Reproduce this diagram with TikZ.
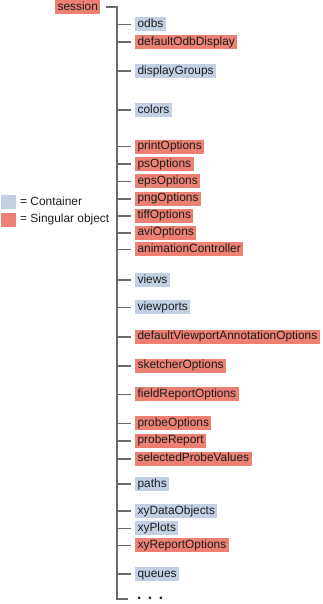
\documentclass[tikz,border=0pt]{standalone}
\usepackage{fontspec}
\setmainfont{Liberation Sans}
\definecolor{contblue}{HTML}{C3D0E4}
\definecolor{singred}{HTML}{EC8072}
\definecolor{linegray}{HTML}{6A6A6A}
\definecolor{txt}{HTML}{1E1E1E}
\begin{document}
\begin{tikzpicture}[x=1pt,y=-1pt,
  every node/.style={font=\fontsize{11.9}{13}\selectfont, text=txt},
  obj/.style={anchor=west, inner xsep=2.4pt, inner ysep=1.5pt, text height=8.6pt, text depth=2.4pt},
  cont/.style={obj, fill=contblue},
  sing/.style={obj, fill=singred},
  trunk/.style={draw=linegray, line width=2pt},
  branch/.style={draw=linegray, line width=1.6pt, shorten >=4pt},
  legbox/.style={minimum width=15pt, minimum height=14pt, inner sep=0pt, anchor=west}
]
\useasboundingbox (0,0) rectangle (323,604);

\node[sing, anchor=west] (session) at (55,7) {session};

\node[cont] (n1) at (135,24.5) {odbs};
\node[sing] (n2) at (135,42) {defaultOdbDisplay};
\node[cont] (n3) at (135,71) {displayGroups};
\node[cont] (n4) at (135,110) {colors};
\node[sing] (n5) at (135,146.7) {printOptions};
\node[sing] (n6) at (135,164) {psOptions};
\node[sing] (n7) at (135,181.3) {epsOptions};
\node[sing] (n8) at (135,198.7) {pngOptions};
\node[sing] (n9) at (135,215.7) {tiffOptions};
\node[sing] (n10) at (135,232.7) {aviOptions};
\node[sing] (n11) at (135,249.3) {animationController};
\node[cont] (n12) at (135,280) {views};
\node[cont] (n13) at (135,307.3) {viewports};
\node[sing] (n14) at (135,336.7) {defaultViewportAnnotationOptions};
\node[sing] (n15) at (135,365.7) {sketcherOptions};
\node[sing] (n16) at (135,394.3) {fieldReportOptions};
\node[sing] (n17) at (135,423.3) {probeOptions};
\node[sing] (n18) at (135,440.7) {probeReport};
\node[sing] (n19) at (135,458.7) {selectedProbeValues};
\node[cont] (n20) at (135,484) {paths};
\node[cont] (n21) at (135,511) {xyDataObjects};
\node[cont] (n22) at (135,528.3) {xyPlots};
\node[sing] (n23) at (135,545.3) {xyReportOptions};
\node[cont] (n24) at (135,574) {queues};

\node[anchor=base west, inner sep=0pt, font=\fontsize{9.5}{10}\selectfont] (dots) at (137.3,601.9) {•\hspace{7.6pt}•\hspace{7.6pt}•};

\coordinate (bot) at (117.3,599.2);
\draw[trunk, shorten <=5pt] (session.east) -| (bot) -- ([xshift=-9pt]dots.west |- bot);

\foreach \i in {1,...,24}{
  \draw[branch] (n\i.west -| bot) -- (n\i.west);
}

\node[legbox, fill=contblue] (lc) at (1,201.7) {};
\node[anchor=west, inner sep=0pt] (lct) at (20,201.7) {= Container};
\node[legbox, fill=singred] (ls) at (1,219.5) {};
\node[anchor=west, inner sep=0pt] (lst) at (20,219.5) {= Singular object};
\end{tikzpicture}
\end{document}
